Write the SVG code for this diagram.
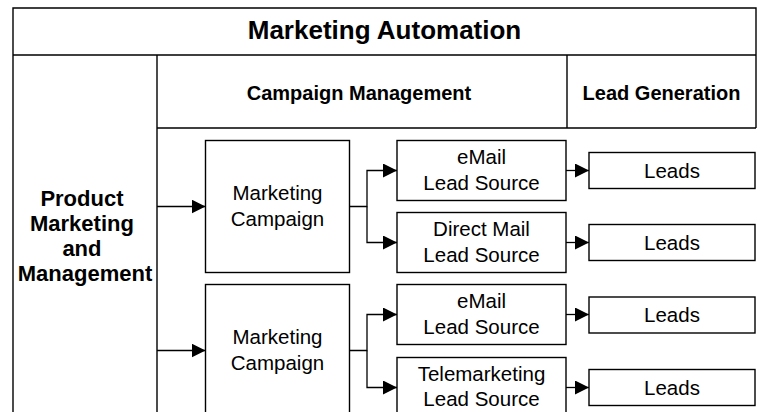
<svg xmlns="http://www.w3.org/2000/svg" width="763" height="412" viewBox="0 0 763 412">
  <style>
    .frame { fill: none; stroke: #000; stroke-width: 1.4; }
    .box { fill: #fff; stroke: #000; stroke-width: 1.4; }
    .conn { fill: none; stroke: #000; stroke-width: 1.3; marker-end: url(#arrow); }
    text { font-family: "Liberation Sans", Arial, sans-serif; fill: #000; text-anchor: middle; }
    .hdr { font-weight: bold; }
    .lbl { font-size: 20.5px; }
  </style>
  <defs>
    <marker id="arrow" markerUnits="userSpaceOnUse" markerWidth="14" markerHeight="14" refX="14" refY="7" orient="auto">
      <path d="M0,0 L14,7 L0,14 Z" fill="#000"/>
    </marker>
  </defs>
  <rect width="763" height="412" fill="#fff"/>

  <!-- swimlane frame -->
  <g id="frame">
    <path class="frame" d="M13,420 V8 H756 V128 M13,55 H756 M157,420 V55 M157,128 H756 M567,55 V128"/>
    <text class="hdr" x="384.5" y="38.5" font-size="26">Marketing Automation</text>
    <text class="hdr" x="359" y="99.5" font-size="20">Campaign Management</text>
    <text class="hdr" x="661.5" y="99.5" font-size="20">Lead Generation</text>
  </g>

  <g id="product-marketing">
    <text class="hdr" font-size="22">
      <tspan x="85" y="206">Product</tspan>
      <tspan x="85" y="231">Marketing</tspan>
      <tspan x="85" y="256">and</tspan>
      <tspan x="85" y="281">Management</tspan>
    </text>
  </g>

  <!-- connectors -->
  <g id="connectors">
    <path class="conn" d="M157,206.5 H205.5"/>
    <path class="conn" d="M157,350.5 H205.5"/>
    <path class="conn" d="M349.5,206.5 H367 V170.5 H397"/>
    <path class="conn" d="M367,206.5 V242.5 H397"/>
    <path class="conn" d="M349.5,350.5 H367 V314.5 H397"/>
    <path class="conn" d="M367,350.5 V387.5 H397"/>
    <path class="conn" d="M566,170.5 H589"/>
    <path class="conn" d="M566,242.5 H589"/>
    <path class="conn" d="M566,314.5 H589"/>
    <path class="conn" d="M566,387.5 H589"/>
  </g>

  <g id="campaign-1">
    <rect class="box" x="205.5" y="140.5" width="144" height="132"/>
    <text class="lbl"><tspan x="277.5" y="200">Marketing</tspan><tspan x="277.5" y="226">Campaign</tspan></text>
  </g>
  <g id="campaign-2">
    <rect class="box" x="205.5" y="284.5" width="144" height="140"/>
    <text class="lbl"><tspan x="277.5" y="344">Marketing</tspan><tspan x="277.5" y="370">Campaign</tspan></text>
  </g>

  <g id="source-email-1">
    <rect class="box" x="397" y="140.5" width="169" height="60"/>
    <text class="lbl"><tspan x="481.5" y="163.5">eMail</tspan><tspan x="481.5" y="189.5">Lead Source</tspan></text>
  </g>
  <g id="source-direct-mail">
    <rect class="box" x="397" y="212.5" width="169" height="60"/>
    <text class="lbl"><tspan x="481.5" y="236">Direct Mail</tspan><tspan x="481.5" y="262">Lead Source</tspan></text>
  </g>
  <g id="source-email-2">
    <rect class="box" x="397" y="284.5" width="169" height="60"/>
    <text class="lbl"><tspan x="481.5" y="308">eMail</tspan><tspan x="481.5" y="334">Lead Source</tspan></text>
  </g>
  <g id="source-telemarketing">
    <rect class="box" x="397" y="357.5" width="169" height="66"/>
    <text class="lbl"><tspan x="481.5" y="381">Telemarketing</tspan><tspan x="481.5" y="406">Lead Source</tspan></text>
  </g>

  <g id="leads-1">
    <rect class="box" x="589" y="152.5" width="166" height="36"/>
    <text class="lbl" x="672" y="177.5">Leads</text>
  </g>
  <g id="leads-2">
    <rect class="box" x="589" y="224.5" width="166" height="36"/>
    <text class="lbl" x="672" y="249.5">Leads</text>
  </g>
  <g id="leads-3">
    <rect class="box" x="589" y="297" width="166" height="36"/>
    <text class="lbl" x="672" y="322">Leads</text>
  </g>
  <g id="leads-4">
    <rect class="box" x="589" y="369.5" width="166" height="36"/>
    <text class="lbl" x="672" y="394.5">Leads</text>
  </g>
</svg>
